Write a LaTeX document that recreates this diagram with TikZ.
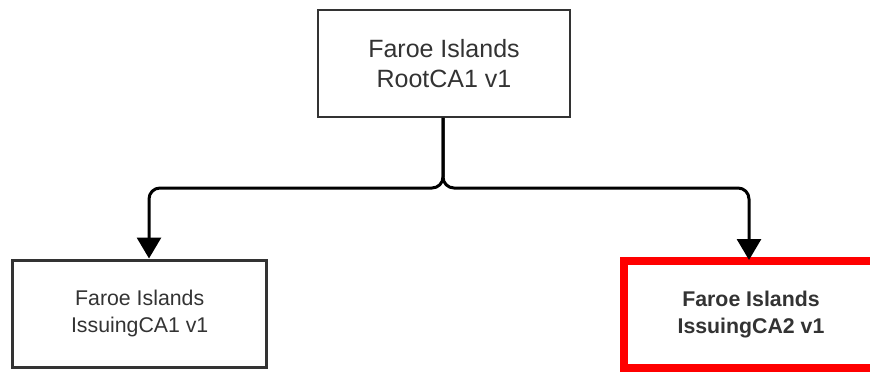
\documentclass[tikz,border=0pt]{standalone}
\usepackage{fontspec}
\setmainfont{Liberation Sans}
\usetikzlibrary{arrows.meta,calc}
\definecolor{txt}{HTML}{333333}
\definecolor{edge}{HTML}{333333}
\definecolor{hired}{HTML}{FF0000}
\begin{document}
\begin{tikzpicture}[x=1pt,y=-1pt,
  box/.style={draw=edge,fill=white,rectangle,minimum width=254pt,minimum height=107pt,
    inner sep=0pt,align=center,text=txt},
  topbox/.style={box,line width=1.6pt,minimum width=252pt,font=\fontsize{25}{30}\selectfont},
  leafbox/.style={box,line width=3pt,font=\fontsize{21.3}{27}\selectfont},
  redbox/.style={box,draw=hired,line width=8pt,font=\fontsize{21.3}{27}\selectfont\bfseries},
  conn/.style={line width=3pt,rounded corners=11pt,-{Triangle[width=24pt,length=21pt]}}]
\useasboundingbox (0,0) rectangle (870,372);
\clip (0,0) rectangle (870,372);
\fill[white] (0,0) rectangle (870,372);
\node[topbox] (root) at (444,63.5) {Faroe Islands\\RootCA1 v1};
\node[leafbox] (ica1) at (139.7,313.5) {Faroe Islands\\IssuingCA1 v1};
\node[redbox] (ica2) at (751,314.5) {Faroe Islands\\IssuingCA2 v1};
\coordinate (jn) at (443,188);
\draw[conn] ([xshift=-1pt]root.south) -- (jn) -| ([xshift=9.3pt]ica1.north);
\draw[conn] ([xshift=-1pt]root.south) -- (jn) -| ([xshift=-2pt,yshift=-3pt]ica2.north);
\end{tikzpicture}
\end{document}
